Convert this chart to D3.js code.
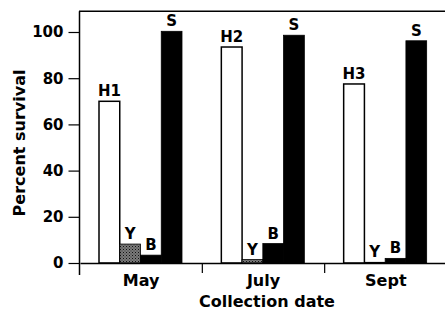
<!DOCTYPE html>
<html>
<head>
<meta charset="utf-8">
<script src="https://cdn.jsdelivr.net/npm/d3@7"></script>
<style>
  body { margin: 0; background: #fff; }
  text { font-family: "DejaVu Sans", sans-serif; font-weight: bold; fill: #000; }
</style>
</head>
<body>
<script>
// collection dates and the four groups in each
var months = ["May", "July", "Sept"];
var groups = ["H", "Y", "B", "S"];
var hostLabels = ["H1", "H2", "H3"];
var yTicks = [0, 20, 40, 60, 80, 100];

// percent survival, one array per group, in month order
var hostValues = [70, 93.5, 77.5];
var yValues = [8.2, 1.5, 0.3];
var bValues = [3.4, 8.4, 2];
var sValues = [100.3, 98.6, 96.2];

var seriesValues = { H: hostValues, Y: yValues, B: bValues, S: sValues };

var width = 445, height = 318;

var svg = d3.select("body").append("svg")
    .attr("width", width)
    .attr("height", height);

// stipple for the Y bars
var defs = svg.append("defs");
var pat = defs.append("pattern")
    .attr("id", "stipple")
    .attr("patternUnits", "userSpaceOnUse")
    .attr("width", 3).attr("height", 3);
pat.append("rect").attr("width", 3).attr("height", 3).attr("fill", "#7a7a7a");
pat.append("rect").attr("width", 1).attr("height", 1).attr("fill", "#111");
pat.append("rect").attr("x", 1.5).attr("y", 1.5).attr("width", 1).attr("height", 1).attr("fill", "#333");

var x = d3.scaleBand()
    .domain(months)
    .range([80, 447]);

var xInner = d3.scaleBand()
    .domain(groups)
    .range([19, 102]);

var y = d3.scaleLinear()
    .domain([0, 100])
    .range([263, 32]);

var fills = { H: "#fff", Y: "url(#stipple)", B: "#000", S: "#000" };

var bars = [];
months.forEach(function (m, i) {
    groups.forEach(function (g) {
        bars.push({
            month: m,
            group: g,
            value: seriesValues[g][i],
            label: g === "H" ? hostLabels[i] : g
        });
    });
});

// frame top line
svg.append("line")
    .attr("x1", 79).attr("x2", width)
    .attr("y1", y(109)).attr("y2", y(109))
    .attr("stroke", "#000").attr("stroke-width", 1.5);

// bars
svg.append("g").selectAll("rect")
    .data(bars)
    .enter().append("rect")
    .attr("x", function (d) { return x(d.month) + xInner(d.group); })
    .attr("y", function (d) { return y(d.value); })
    .attr("width", xInner.bandwidth())
    .attr("height", function (d) { return y(0) - y(d.value); })
    .attr("fill", function (d) { return fills[d.group]; })
    .attr("stroke", "#000")
    .attr("stroke-width", function (d) { return d.group === "H" ? 1.5 : 0.8; });

// bar labels
svg.append("g").selectAll("text")
    .data(bars)
    .enter().append("text")
    .attr("x", function (d) { return x(d.month) + xInner(d.group) + xInner.bandwidth() / 2; })
    .attr("y", function (d) { return y(d.value) - 5; })
    .attr("text-anchor", "middle")
    .style("font-size", "15px")
    .text(function (d) { return d.label; });

// y axis
var yAxis = svg.append("g")
    .attr("transform", "translate(79.5,0)")
    .call(d3.axisLeft(y).tickValues(yTicks).tickSize(11).tickPadding(5));
yAxis.select(".domain").remove();
yAxis.selectAll("line").attr("stroke-width", 1.2);
yAxis.selectAll("text").style("font-size", "15px").style("font-family", "DejaVu Sans").style("font-weight", "bold");

svg.append("line")
    .attr("x1", 79.5).attr("x2", 79.5)
    .attr("y1", y(109)).attr("y2", 275)
    .attr("stroke", "#000").attr("stroke-width", 1.5);

// x axis
var xAxis = svg.append("g")
    .attr("transform", "translate(0," + y(0) + ")")
    .call(d3.axisBottom(x).tickSize(0).tickPadding(12));
xAxis.select(".domain").attr("stroke-width", 1.5);
xAxis.selectAll("text").style("font-size", "16px").style("font-family", "DejaVu Sans").style("font-weight", "bold");

// boundary ticks between dates
svg.append("g").selectAll("line")
    .data(months)
    .enter().append("line")
    .attr("x1", function (d) { return x(d) + x.step(); })
    .attr("x2", function (d) { return x(d) + x.step(); })
    .attr("y1", y(0)).attr("y2", y(0) + 10)
    .attr("stroke", "#000").attr("stroke-width", 1.2);

// axis titles
svg.append("text")
    .attr("transform", "translate(25,143) rotate(-90)")
    .attr("text-anchor", "middle")
    .style("font-size", "16px")
    .text("Percent survival");

svg.append("text")
    .attr("x", 267)
    .attr("y", 307)
    .attr("text-anchor", "middle")
    .style("font-size", "16px")
    .text("Collection date");
</script>
</body>
</html>
